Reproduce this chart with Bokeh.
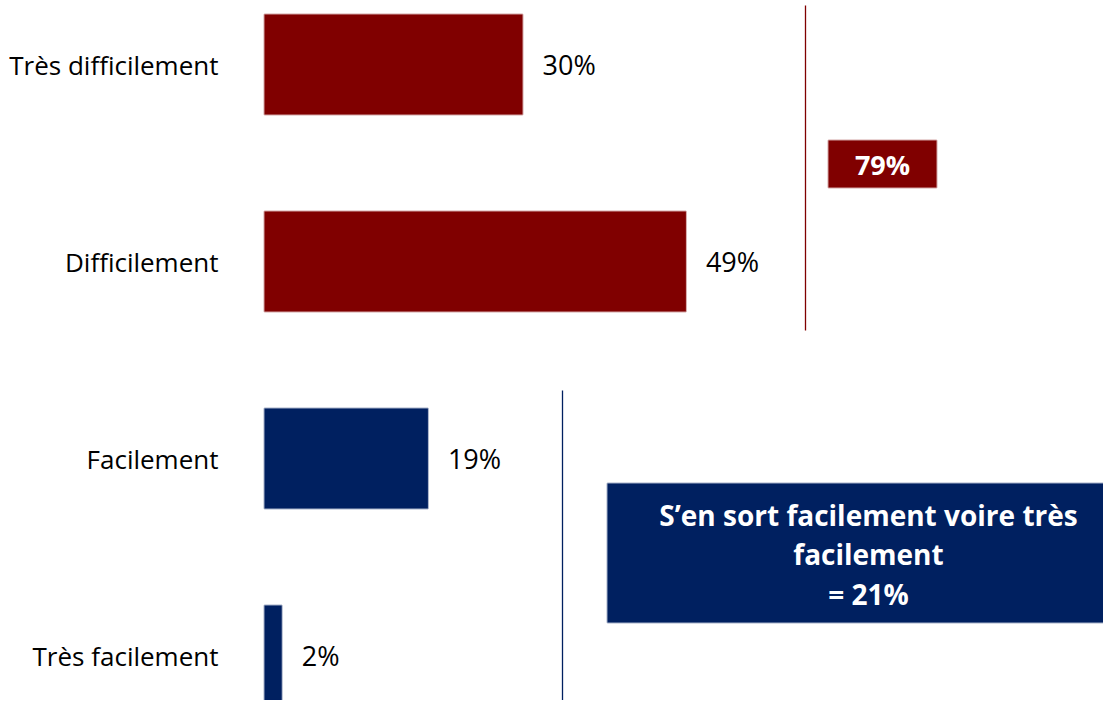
from bokeh.plotting import figure
from bokeh.models import Range1d, ColumnDataSource
from bokeh.core.properties import value
from bokeh.embed import file_html
from bokeh.resources import INLINE

categories = ["Très difficilement", "Difficilement", "Facilement", "Très facilement"]
values = [30, 49, 19, 2]
value_labels = ["30%", "49%", "19%", "2%"]
colors = ["#800000", "#800000", "#002060", "#002060"]
total_hard = "79%"
total_easy_text = "S\u2019en sort facilement voire très\nfacilement\n= 21%"

W, H = 1103, 700
PX_PER_PCT = 8.6
X0_PX = 264          # canvas x of 0%
ROW_PX = 197
TOP_ROW_PX = 64

x_start = -X0_PX / PX_PER_PCT
x_end = x_start + W / PX_PER_PCT
y_end = 3 + TOP_ROW_PX / ROW_PX
y_start = y_end - H / ROW_PX

def dx(px):
    return x_start + px / PX_PER_PCT

def dy(py):
    return y_end - py / ROW_PX

FONT = "Open Sans"

ypos = [3, 2, 1, 0]
src = ColumnDataSource(dict(cat=categories, val=values, lab=value_labels,
                            col=colors, y=ypos, zero=[0] * 4))

p = figure(width=W, height=H, output_backend="svg", toolbar_location=None,
           x_range=Range1d(x_start, x_end), y_range=Range1d(y_start, y_end),
           min_border=0, outline_line_color=None)
p.xaxis.visible = False
p.yaxis.visible = False
p.grid.visible = False

p.hbar(y="y", left="zero", right="val", height=100 / ROW_PX, fill_color="col",
       line_color="col", line_alpha=0.35, line_width=2, source=src)

p.text(x="val", y="y", text="lab", source=src, x_offset=20,
       text_align="left", text_baseline="middle",
       text_font=value(FONT), text_font_size="27px", text_color="#000000")

p.text(x=dx(218), y="y", text="cat", source=src,
       text_align="right", text_baseline="middle",
       text_font=value(FONT), text_font_size="26px", text_color="#000000")

# bracket lines
p.segment(x0=[dx(805)], y0=[dy(5)], x1=[dx(805)], y1=[dy(330)],
          line_color="#800000", line_width=1.3)
p.segment(x0=[dx(562)], y0=[dy(390)], x1=[dx(562)], y1=[dy(710)],
          line_color="#002060", line_width=1.3)

# summary boxes
p.quad(left=[dx(828)], right=[dx(936)], top=[dy(140)], bottom=[dy(187)],
       fill_color="#800000", line_color="#800000", line_alpha=0.35, line_width=2)
p.text(x=[dx(882)], y=[dy(164)], text=[total_hard], text_align="center",
       text_baseline="middle", text_font=value(FONT), text_font_style="bold",
       text_font_size="27px", text_color="white")

p.quad(left=[dx(607)], right=[dx(1120)], top=[dy(483)], bottom=[dy(622)],
       fill_color="#002060", line_color="#002060", line_alpha=0.35, line_width=2)
p.text(x=[dx(868)], y=[dy(554)], text=[total_easy_text], text_align="center",
       text_baseline="middle", text_font=value(FONT), text_font_style="bold",
       text_font_size="28px", text_color="white", text_line_height=1.05)

open("out.html", "w").write(file_html(p, INLINE))
